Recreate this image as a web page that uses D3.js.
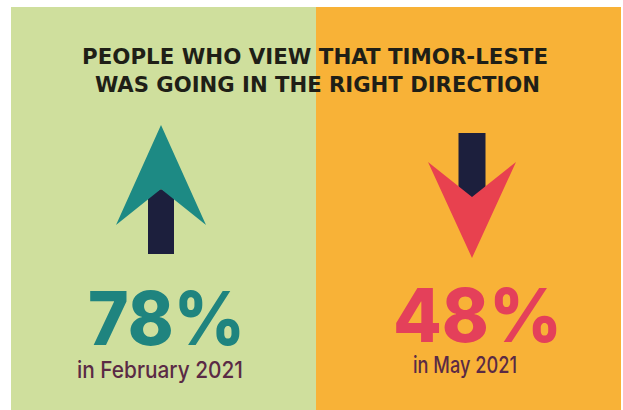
<!DOCTYPE html>
<html>
<head>
<meta charset="utf-8">
<script src="https://cdn.jsdelivr.net/npm/d3@7"></script>
<style>
  html, body { margin: 0; padding: 0; background: #ffffff; }
  svg { display: block; }
</style>
</head>
<body>
<svg id="chart" width="623" height="410"></svg>
<script>
// Survey: share of people who think Timor-Leste is heading in the right direction
const periods    = ["February 2021", "May 2021"];
const values     = [78, 48];
const directions = ["up", "down"];
const titleLines = ["PEOPLE WHO VIEW THAT TIMOR-LESTE", "WAS GOING IN THE RIGHT DIRECTION"];

const panelFill  = ["#cfdf9d", "#f8b237"];
const headFill   = ["#1d8a84", "#e8414f"];
const numberFill = ["#1f847f", "#e4405a"];
const shaftFill  = "#1c1f3d";
const subFill    = "#5a2a45";
const titleFill  = "#1f1f17";

const W = 623, H = 410;
const svg = d3.select("#chart");

// one panel per survey round
const x = d3.scaleBand().domain(periods).range([11, 621]).padding(0);
const y = d3.scaleLinear().domain([0, H]).range([0, H]);

// small per-panel nudges of the artwork around each panel centre
const arrowDx  = [-2.5, 3.5];
const numberDx = [3, 9];
const numberY  = [345, 342];
const subDx    = [-3.5, -3.5];
const subY     = [378, 373];
const numberW  = [157, 169];
const subW     = [166, 104];

const panels = svg.selectAll("g.panel")
  .data(periods.map((p, i) => ({ period: p, value: values[i], dir: directions[i], i })))
  .join("g")
  .attr("class", "panel");

panels.append("rect")
  .attr("x", d => x(d.period))
  .attr("y", y(7))
  .attr("width", x.bandwidth())
  .attr("height", H - 7)
  .attr("fill", d => panelFill[d.i]);

// arrows: shaft first, head drawn over it
const line = d3.line();
panels.each(function (d) {
  const g = d3.select(this);
  const cx = x(d.period) + x.bandwidth() / 2 + arrowDx[d.i];
  if (d.dir === "up") {
    g.append("path")
      .attr("d", line([[cx - 13, y(254)], [cx - 13, y(196)], [cx, y(189)], [cx + 13, y(196)], [cx + 13, y(254)]]) + "Z")
      .attr("fill", shaftFill);
    g.append("path")
      .attr("d", line([[cx, y(125)], [cx + 45, y(225)], [cx, y(189)], [cx - 45, y(225)]]) + "Z")
      .attr("fill", headFill[d.i]);
  } else {
    g.append("rect")
      .attr("x", cx - 13.5).attr("y", y(133))
      .attr("width", 27).attr("height", y(200) - y(133))
      .attr("fill", shaftFill);
    g.append("path")
      .attr("d", line([[cx, y(258)], [cx + 44, y(162)], [cx, y(197)], [cx - 44, y(162)]]) + "Z")
      .attr("fill", headFill[d.i]);
  }
});

// big percentage
panels.append("text")
  .attr("x", d => x(d.period) + x.bandwidth() / 2 + numberDx[d.i])
  .attr("y", d => y(numberY[d.i]))
  .attr("text-anchor", "middle")
  .attr("font-family", "Inter, 'Open Sans', sans-serif")
  .attr("font-weight", 800)
  .attr("font-size", 74)
  .attr("textLength", d => numberW[d.i])
  .attr("lengthAdjust", "spacingAndGlyphs")
  .attr("fill", d => numberFill[d.i])
  .text(d => d.value + "%");

// survey round
panels.append("text")
  .attr("x", d => x(d.period) + x.bandwidth() / 2 + subDx[d.i])
  .attr("y", d => y(subY[d.i]))
  .attr("text-anchor", "middle")
  .attr("font-family", "Inter, 'Open Sans', sans-serif")
  .attr("font-weight", 500)
  .attr("font-size", 23)
  .attr("textLength", d => subW[d.i])
  .attr("lengthAdjust", "spacingAndGlyphs")
  .attr("fill", subFill)
  .text(d => "in " + d.period);

// heading across both panels
const titleX = [315, 317.5];
const titleY = [64, 92];
const titleW = [466, 445];
svg.selectAll("text.title")
  .data(titleLines)
  .join("text")
  .attr("class", "title")
  .attr("x", (t, i) => titleX[i])
  .attr("y", (t, i) => y(titleY[i]))
  .attr("text-anchor", "middle")
  .attr("font-family", "'DejaVu Sans Condensed', 'DejaVu Sans', sans-serif")
  .attr("font-stretch", "condensed")
  .attr("font-weight", 700)
  .attr("font-size", 22)
  .attr("textLength", (t, i) => titleW[i])
  .attr("lengthAdjust", "spacingAndGlyphs")
  .attr("fill", titleFill)
  .text(t => t);
</script>
</body>
</html>
